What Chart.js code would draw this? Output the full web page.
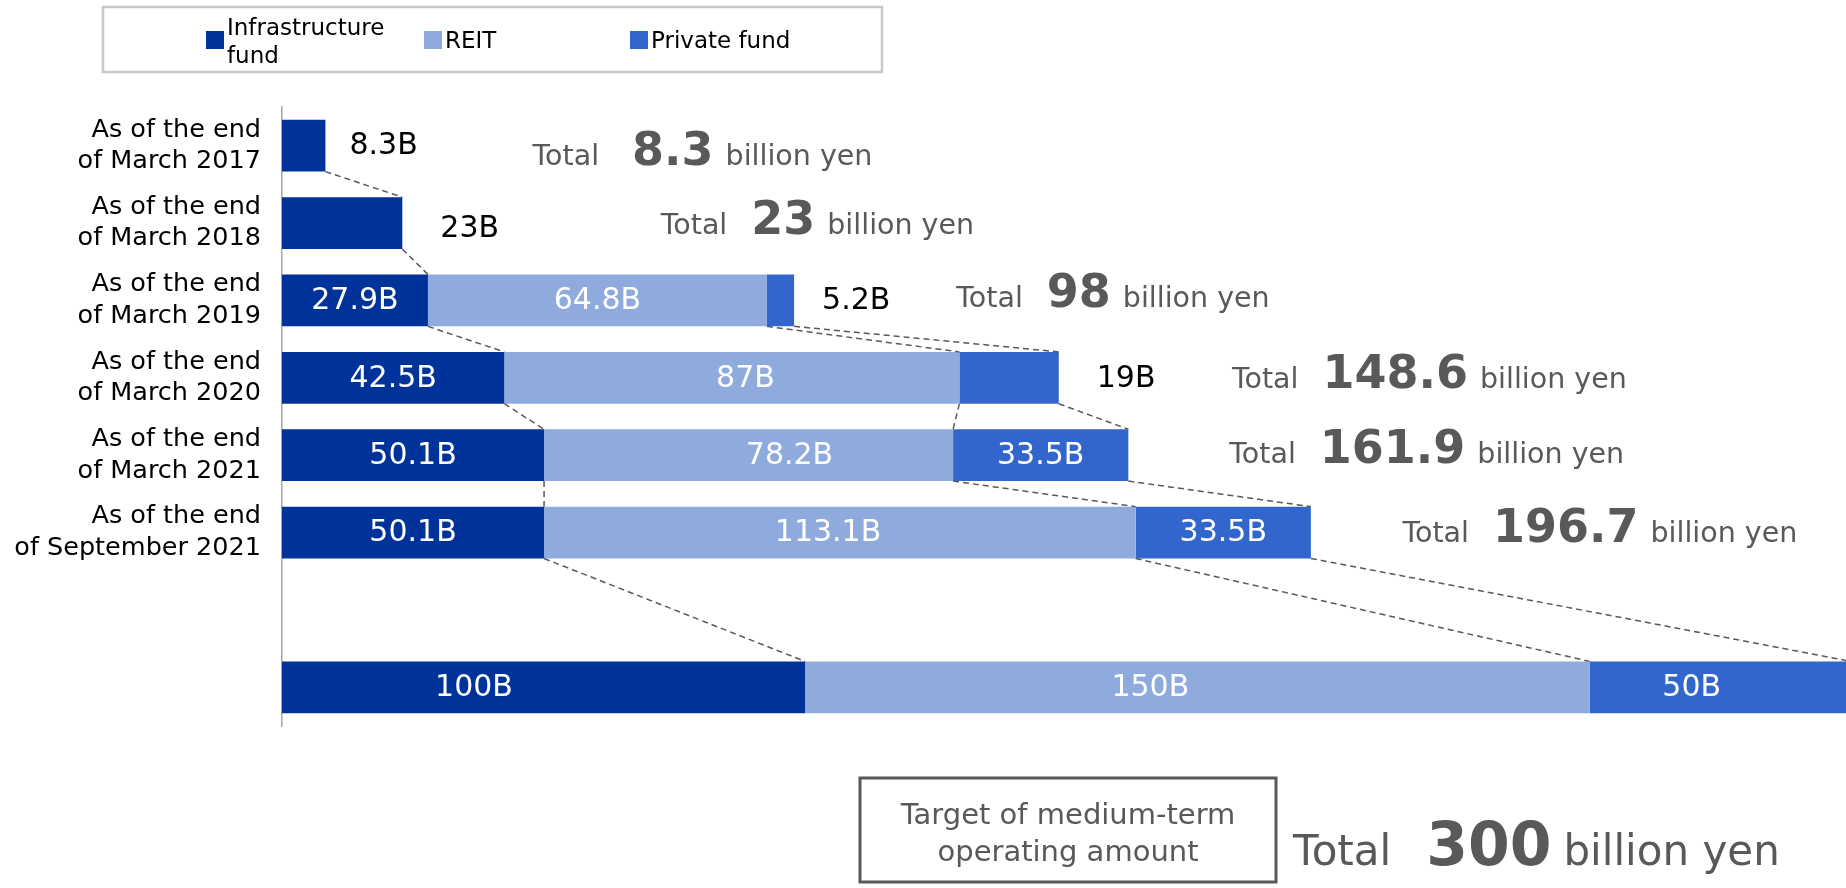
<!DOCTYPE html>
<html><head><meta charset="utf-8">
<script src="https://cdn.jsdelivr.net/npm/chart.js@4.4.0/dist/chart.umd.min.js"></script>
<style>html,body{margin:0;padding:0;background:#fff;overflow:hidden}#wrap{width:1846px;height:888px;position:relative}</style>
</head><body><div id="wrap"><canvas id="c" width="1846" height="888"></canvas></div>
<script>
// ---- data ----
const categories = [
  ['As of the end', 'of March 2017'],
  ['As of the end', 'of March 2018'],
  ['As of the end', 'of March 2019'],
  ['As of the end', 'of March 2020'],
  ['As of the end', 'of March 2021'],
  ['As of the end', 'of September 2021'],
  '',
  ''
];
const seriesNames = ['Infrastructure fund', 'REIT', 'Private fund'];
const infraValues   = [8.3, 23, 27.9, 42.5, 50.1, 50.1, null, 100];
const reitValues    = [null, null, 64.8, 87, 78.2, 113.1, null, 150];
const privateValues = [null, null, 5.2, 19, 33.5, 33.5, null, 50];
const totalValues   = ['8.3', '23', '98', '148.6', '161.9', '196.7', null, '300'];
const targetCaption = ['Target of medium-term', 'operating amount'];

// ---- layout (annotation placement) ----
const totalLabelX  = [47.9, 72.4, 128.9, 181.6, 181.1, 214.2, null, 193.3]; // x-scale units
const totalLabelDy = [19, 11, 6.5, 10, 7.5, 9, null, null];                  // baseline below row centre, px
const totalGap     = [33, 24, 24, 24, 24, 24, null, 35];
const outsideLabelDx = {'0-0': 24, '0-1': 38, '2-2': 28, '2-3': 38};
const outsideLabelDy = {'0-1': 5};
const labelAnchor = {'0-7': 0.367, '1-4': 0.60, '1-7': 0.44, '2-7': 0.39, '1-5': 0.48, '1-3': 0.53};

const colors = ['#00339A', '#8FAADC', '#3366CC'];
const FONT = 'DejaVu Sans';
const GRAY = '#595959';

const seriesValues = [infraValues, reitValues, privateValues];

const decorPlugin = {
  id: 'decor',
  afterDatasetsDraw(chart) {
    const ctx = chart.ctx;
    const xs = chart.scales.x, ys = chart.scales.y;
    const area = chart.chartArea;
    const cat = (area.bottom - area.top) / categories.length;
    const thick = cat * 0.67;
    const ends = categories.map((_, r) => {
      let s = 0; const e = [];
      seriesValues.forEach((arr, k) => { if (arr[r] != null) { s += arr[r]; e[k] = s; } });
      return e;
    });
    ctx.save();
    // dashed connectors
    ctx.strokeStyle = GRAY; ctx.lineWidth = 1.5; ctx.setLineDash([6, 4]);
    const rows = categories.map((_, r) => r).filter(r => ends[r].length > 0);
    for (let i = 0; i < rows.length - 1; i++) {
      const a = rows[i], b = rows[i + 1];
      const yA = ys.getPixelForValue(a) + thick / 2;
      const yB = ys.getPixelForValue(b) - thick / 2;
      for (let k = 0; k < 3; k++) {
        if (ends[a][k] != null && ends[b][k] != null) {
          ctx.beginPath();
          ctx.moveTo(xs.getPixelForValue(ends[a][k]), yA);
          ctx.lineTo(xs.getPixelForValue(ends[b][k]), yB);
          ctx.stroke();
        }
      }
    }
    ctx.setLineDash([]);
    // value labels
    ctx.textBaseline = 'middle';
    seriesValues.forEach((arr, k) => {
      arr.forEach((v, r) => {
        if (v == null) return;
        const start = ends[r][k] - v;
        const yc = ys.getPixelForValue(r) + 1;
        const txt = v + 'B';
        ctx.font = '30px "' + FONT + '"';
        if (v < 25) {
          ctx.fillStyle = '#000'; ctx.textAlign = 'left';
          ctx.fillText(txt, xs.getPixelForValue(ends[r][k]) + (outsideLabelDx[k + '-' + r] || 30),
                       yc + (outsideLabelDy[k + '-' + r] || 0));
        } else {
          const f = labelAnchor[k + '-' + r] != null ? labelAnchor[k + '-' + r] : 0.5;
          ctx.fillStyle = '#fff'; ctx.textAlign = 'center';
          ctx.fillText(txt, xs.getPixelForValue(start + v * f), yc);
        }
      });
    });
    // totals
    ctx.textBaseline = 'alphabetic'; ctx.textAlign = 'left'; ctx.fillStyle = GRAY;
    totalValues.forEach((t, r) => {
      if (t == null) return;
      const big = r === categories.length - 1;
      const fs = big ? 42 : 28.5, bs = big ? 60 : 46;
      const base = big ? 865 : ys.getPixelForValue(r) + totalLabelDy[r];
      let x = xs.getPixelForValue(totalLabelX[r]);
      ctx.font = fs + 'px "' + FONT + '"';
      ctx.fillText('Total', x, base);
      x += ctx.measureText('Total').width + totalGap[r];
      ctx.font = 'bold ' + bs + 'px "' + FONT + '"';
      ctx.fillText(t, x, base);
      x += ctx.measureText(t).width + 12;
      ctx.font = fs + 'px "' + FONT + '"';
      ctx.fillText('billion yen', x, base);
    });
    // target box
    ctx.strokeStyle = GRAY; ctx.lineWidth = 3;
    ctx.strokeRect(860, 778, 416, 104);
    ctx.font = '29px "' + FONT + '"'; ctx.textAlign = 'center'; ctx.fillStyle = GRAY;
    ctx.fillText(targetCaption[0], 1068, 824);
    ctx.fillText(targetCaption[1], 1068, 861);
    // legend
    ctx.strokeStyle = '#c8c8c8'; ctx.lineWidth = 2.5;
    ctx.strokeRect(103, 7, 779, 65);
    const legX = [206, 424, 630];
    ctx.font = '23px "' + FONT + '"'; ctx.textAlign = 'left'; ctx.textBaseline = 'alphabetic';
    seriesNames.forEach((name, k) => {
      ctx.fillStyle = colors[k];
      ctx.fillRect(legX[k], 31, 18, 18);
      ctx.fillStyle = '#000';
      const tx = legX[k] + 21;
      const words = name.split(' ');
      const lines = []; let cur = '';
      words.forEach(w => {
        const test = cur ? cur + ' ' + w : w;
        if (ctx.measureText(test).width > 165 && cur) { lines.push(cur); cur = w; } else cur = test;
      });
      lines.push(cur);
      if (lines.length === 1) ctx.fillText(lines[0], tx, 48);
      else lines.forEach((l, i) => ctx.fillText(l, tx, 35 + i * 28));
    });
    ctx.restore();
  }
};

new Chart(document.getElementById('c'), {
  type: 'bar',
  data: {
    labels: categories,
    datasets: seriesValues.map((arr, k) => ({
      label: seriesNames[k], data: arr, backgroundColor: colors[k],
      borderWidth: 0, barPercentage: 0.67, categoryPercentage: 1
    }))
  },
  options: {
    responsive: false, animation: false, indexAxis: 'y',
    layout: {padding: {top: 107, bottom: 162, left: 0, right: 0}},
    plugins: {legend: {display: false}, tooltip: {enabled: false}},
    scales: {
      x: {stacked: true, min: 0, max: 299, display: false},
      y: {
        stacked: true,
        grid: {display: false, drawTicks: false},
        border: {display: true, color: '#a6a6a6', width: 1.5},
        ticks: {color: '#000', font: {family: FONT, size: 25.5, lineHeight: 1.24}, padding: 21, autoSkip: false},
        afterFit(s) { s.width = 282; }
      }
    }
  },
  plugins: [decorPlugin]
});
</script></body></html>
